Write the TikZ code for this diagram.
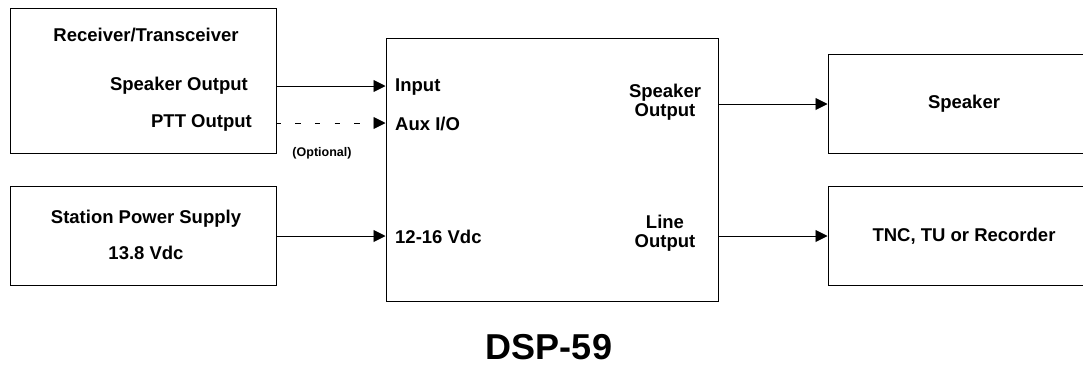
\documentclass[tikz,border=0pt]{standalone}
\usepackage{fontspec}
\setmainfont{Liberation Sans}
\usetikzlibrary{arrows.meta}
\begin{document}
\begin{tikzpicture}[x=1pt,y=-1pt,
  blk/.style={draw,line width=1pt,rectangle,inner sep=0pt},
  lbl/.style={font=\fontsize{18.5}{19}\selectfont\bfseries,inner sep=0pt},
  lbltwo/.style={font=\fontsize{18.5}{19.5}\selectfont\bfseries,inner sep=0pt,align=center},
  arr/.style={line width=0.9pt,-{Triangle[length=12pt,width=12pt]}},
  dsh/.style={arr,dash pattern=on 5.5pt off 14.2pt,dash phase=1pt}]
\useasboundingbox (0,0) rectangle (1083,368);
% boxes
\node[blk,minimum width=266pt,minimum height=145pt] (recv) at (143,80.5) {};
\node[blk,minimum width=266pt,minimum height=99pt] (pwr) at (143,235.5) {};
\node[blk,minimum width=332pt,minimum height=263pt] (dsp) at (552,169.5) {};
\node[blk,minimum width=262pt,minimum height=99pt] (spk) at (959,103.5) {};
\node[blk,minimum width=262pt,minimum height=99pt] (tnc) at (959,235.5) {};
% labels
\node[lbl] (rt) at (146,35) {Receiver/Transceiver};
\node[lbl,anchor=east] (so) at (248,86) {Speaker Output};
\node[lbl,anchor=east] (ptt) at (252,123) {PTT Output};
\node[font=\fontsize{12.5}{13}\selectfont\bfseries,inner sep=0pt] (opt) at (322,153) {(Optional)};
\node[lbl] (sps) at (146,219) {Station Power Supply};
\node[lbl] (v138) at (146,253) {13.8 Vdc};
\node[lbl,anchor=west] (inp) at (395,87) {Input};
\node[lbl,anchor=west] (aux) at (395,124) {Aux I/O};
\node[lbl,anchor=west] (v1216) at (395,237) {12-16 Vdc};
\node[lbltwo] (dso) at (665,102) {Speaker\\Output};
\node[lbltwo] (dlo) at (665,233) {Line\\Output};
\node[lbl] (spkl) at (964,104) {Speaker};
\node[lbl] (tncl) at (964,236) {TNC, TU or Recorder};
\node[font=\fontsize{36}{40}\selectfont\bfseries,inner sep=0pt] (title) at (549,347) {DSP-59};
% connectors
\coordinate (c1) at (0,86);
\coordinate (c2) at (0,123);
\coordinate (c3) at (0,236);
\coordinate (c4) at (0,104);
\draw[arr] (recv.east |- c1) -- (dsp.west |- c1);
\draw[dsh] (recv.east |- c2) -- (dsp.west |- c2);
\draw[arr] (pwr.east |- c3) -- (dsp.west |- c3);
\draw[arr] (dsp.east |- c4) -- (spk.west |- c4);
\draw[arr] (dsp.east |- c3) -- (tnc.west |- c3);
\end{tikzpicture}
\end{document}
